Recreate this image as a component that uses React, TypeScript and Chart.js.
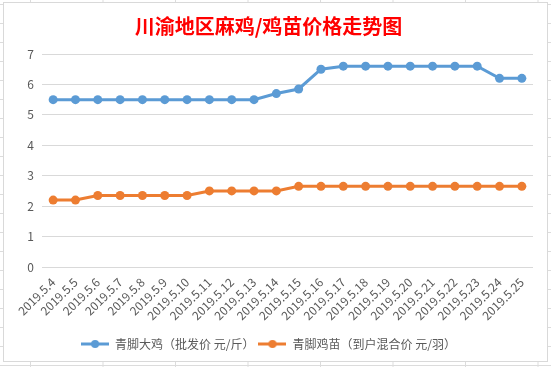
import React, { useEffect, useRef } from "react";
import { Chart, registerables } from "chart.js";

Chart.register(...registerables);

const titleText = "川渝地区麻鸡/鸡苗价格走势图";
const categories = [
  "2019.5.4", "2019.5.5", "2019.5.6", "2019.5.7", "2019.5.8", "2019.5.9",
  "2019.5.10", "2019.5.11", "2019.5.12", "2019.5.13", "2019.5.14", "2019.5.15",
  "2019.5.16", "2019.5.17", "2019.5.18", "2019.5.19", "2019.5.20", "2019.5.21",
  "2019.5.22", "2019.5.23", "2019.5.24", "2019.5.25",
];
const broilerName = "青脚大鸡（批发价 元/斤）";
const broilerPrice = [
  5.5, 5.5, 5.5, 5.5, 5.5, 5.5, 5.5, 5.5, 5.5, 5.5,
  5.7, 5.85, 6.5, 6.6, 6.6, 6.6, 6.6, 6.6, 6.6, 6.6, 6.2, 6.2,
];
const chickName = "青脚鸡苗（到户混合价 元/羽）";
const chickPrice = [
  2.2, 2.2, 2.35, 2.35, 2.35, 2.35, 2.35, 2.5, 2.5, 2.5, 2.5,
  2.65, 2.65, 2.65, 2.65, 2.65, 2.65, 2.65, 2.65, 2.65, 2.65, 2.65,
];
const yMin = 0;
const yMax = 7;
const yStep = 1;

const BLUE = "#5B9BD5";
const ORANGE = "#ED7D31";
const TEXT = "#595959";
const GRID = "#d9d9d9";
const FONT = "'Noto Sans CJK SC', 'Noto Sans', sans-serif";

function makeMarker(color: string): HTMLCanvasElement {
  const c = document.createElement("canvas");
  c.width = 28;
  c.height = 10;
  const ctx = c.getContext("2d")!;
  ctx.strokeStyle = color;
  ctx.lineWidth = 3;
  ctx.beginPath();
  ctx.moveTo(0, 5);
  ctx.lineTo(28, 5);
  ctx.stroke();
  ctx.fillStyle = color;
  ctx.beginPath();
  ctx.arc(14, 5, 4, 0, Math.PI * 2);
  ctx.fill();
  return c;
}

export default function App() {
  const ref = useRef<HTMLCanvasElement>(null);

  useEffect(() => {
    if (!ref.current) return;
    const markers = [makeMarker(BLUE), makeMarker(ORANGE)];
    const chart = new Chart(ref.current, {
      type: "line",
      data: {
        labels: categories,
        datasets: [
          {
            label: broilerName,
            data: broilerPrice,
            borderColor: BLUE,
            backgroundColor: BLUE,
            borderWidth: 3,
            pointRadius: 4.5,
            pointBorderWidth: 0,
            pointBackgroundColor: BLUE,
            tension: 0,
          },
          {
            label: chickName,
            data: chickPrice,
            borderColor: ORANGE,
            backgroundColor: ORANGE,
            borderWidth: 3,
            pointRadius: 4.5,
            pointBorderWidth: 0,
            pointBackgroundColor: ORANGE,
            tension: 0,
          },
        ],
      },
      options: {
        animation: false,
        responsive: true,
        maintainAspectRatio: false,
        layout: { padding: { top: 0, left: 0, right: 14, bottom: 1 } },
        plugins: {
          title: {
            display: true,
            text: titleText,
            color: "#FF0000",
            font: { family: FONT, size: 20, weight: "bold" },
            padding: { top: 11, bottom: 16 },
          },
          legend: {
            display: true,
            position: "bottom",
            labels: {
              color: TEXT,
              font: { family: FONT, size: 12 },
              usePointStyle: true,
              pointStyleWidth: 28,
              padding: 4,
              generateLabels: (ch: any) => {
                const items = Chart.defaults.plugins.legend.labels.generateLabels(ch);
                return items.map((it: any, i: number) => ({ ...it, pointStyle: markers[i] }));
              },
            },
          },
          tooltip: { enabled: false },
        },
        scales: {
          x: {
            offset: true,
            grid: { display: false, drawTicks: false },
            border: { display: false },
            ticks: {
              color: TEXT,
              font: { family: FONT, size: 12 },
              minRotation: 45,
              maxRotation: 45,
              autoSkip: false,
              padding: 8,
            },
            afterFit: (s: any) => {
              s.height = 67;
            },
          },
          y: {
            min: yMin,
            max: yMax,
            grid: { color: GRID, drawTicks: false, lineWidth: 1 },
            border: { display: false },
            ticks: {
              stepSize: yStep,
              color: TEXT,
              font: { family: FONT, size: 12 },
              padding: 8,
            },
            afterFit: (s: any) => {
              s.width = 38;
            },
          },
        },
      },
    });
    return () => chart.destroy();
  }, []);

  return (
    <div
      style={{
        position: "fixed",
        left: 0,
        top: 0,
        width: 551,
        height: 367,
        backgroundColor: "#ffffff",
        backgroundImage:
          "linear-gradient(to right, #dcdcdc 1px, transparent 1px), linear-gradient(to bottom, #dcdcdc 1px, transparent 1px)",
        backgroundSize: "72.5px 19px",
        backgroundPosition: "30px 4px",
      }}
    >
      <div
        style={{
          position: "absolute",
          left: 3,
          top: 2,
          width: 545,
          height: 360,
          boxSizing: "border-box",
          border: `1px solid ${GRID}`,
          background: "#ffffff",
        }}
      >
        <canvas ref={ref} />
      </div>
    </div>
  );
}
